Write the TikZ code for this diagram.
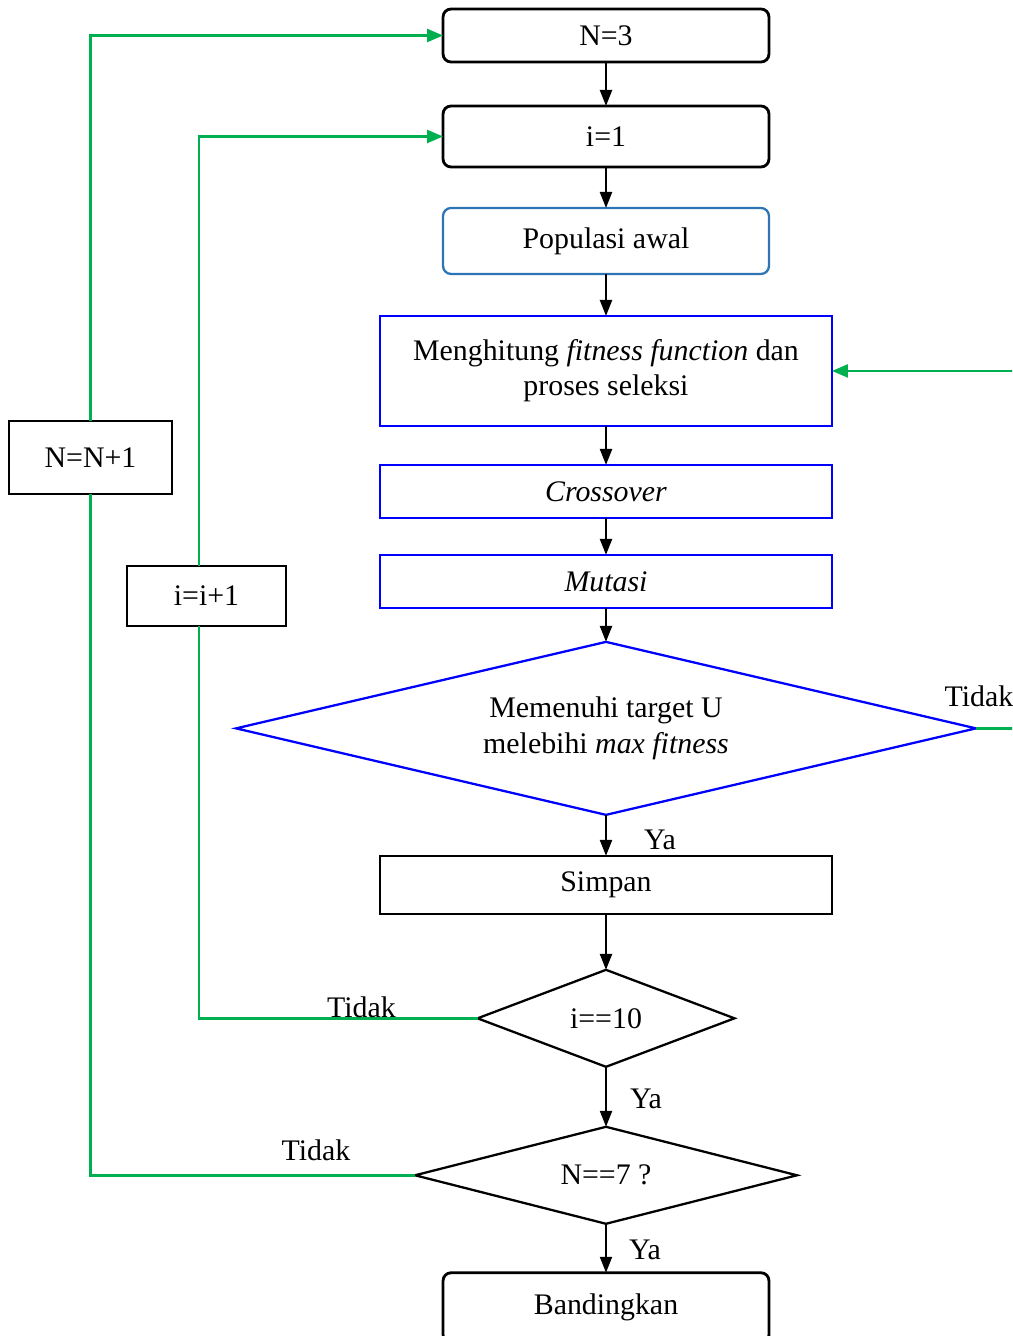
\documentclass[tikz,border=0pt]{standalone}
\usepackage{fontspec}
\setmainfont{Liberation Serif}
\usetikzlibrary{arrows.meta}
\usetikzlibrary{positioning}
\usetikzlibrary{calc}
\usetikzlibrary{shapes.geometric}
\definecolor{loopgreen}{RGB}{0,176,80}
\definecolor{popblue}{RGB}{46,117,182}
\newcommand\flowfont{\fontsize{17}{20}\selectfont}
\tikzset{
	base/.style={draw, inner sep=0pt, outer sep=0pt, align=center, font=\flowfont},
	startbox/.style={base, rectangle, rounded corners=0.16cm, line width=1.6pt, minimum width=6.52cm},
	procbox/.style={base, rectangle, draw=blue, line width=1.3pt, minimum width=9.04cm},
	decision/.style={base, diamond, line width=1.3pt},
	counterbox/.style={base, rectangle, line width=1.3pt},
}

\begin{document}
\begin{tikzpicture}[x=0.02cm, y=-0.02cm,
	arr/.style={line width=1.3pt, -{Triangle[length=3.2mm,width=2.4mm]}},
	greenline/.style={draw=loopgreen, line width=1.4pt},
	greenarr/.style={greenline, -{Triangle[length=3.2mm,width=2.6mm]}},
	lbl/.style={font=\flowfont}]
	
	\useasboundingbox (0,0) rectangle (1012,1336);
	\clip (0,0) rectangle (1012,1336);
	
	% main column
	\node[startbox, minimum height=1.06cm] (n3) at (606,35.5) {N=3};
	\node[startbox, minimum height=1.22cm, below=0.88cm of n3] (i1) {i=1};
	\node[startbox, draw=popblue, line width=1.3pt, minimum height=1.32cm, below=0.82cm of i1] (pop) {Populasi awal};
	\node[procbox, minimum height=2.2cm, below=0.84cm of pop] (fit) {Menghitung \textit{fitness function} dan\\proses seleksi};
	\node[procbox, minimum height=1.06cm, below=0.78cm of fit] (cross) {\textit{Crossover}};
	\node[procbox, minimum height=1.06cm, below=0.74cm of cross] (mut) {\textit{Mutasi}};
	\node[decision, draw=blue, aspect=4.28, minimum width=14.8cm, minimum height=3.46cm, below=0.68cm of mut] (d1) {Memenuhi target U\\melebihi \textit{max fitness}};
	\node[procbox, draw=black, line width=1.5pt, minimum height=1.16cm, below=0.82cm of d1] (simp) {Simpan};
	\node[decision, aspect=2.65, minimum width=5.14cm, minimum height=1.94cm, below=1.12cm of simp] (i10) {i==10};
	\node[decision, aspect=3.94, minimum width=7.64cm, minimum height=1.94cm, below=1.2cm of i10] (n7) {N==7 ?};
	\node[startbox, minimum height=1.4cm, below=0.98cm of n7] (band) {Bandingkan};
	
	% counter boxes
	\node[counterbox, minimum width=3.26cm, minimum height=1.46cm] (nn) at (90.5,457.5) {N=N+1};
	\node[counterbox, minimum width=3.18cm, minimum height=1.2cm] (ii) at (206.5,596) {i=i+1};
	
	% flow arrows
	\foreach \a/\b in {n3/i1, i1/pop, pop/fit, fit/cross, cross/mut, mut/d1, d1/simp, simp/i10, i10/n7, n7/band}
	\draw[arr] (\a) -- (\b);
	
	% N loop
	\draw[greenline] (n7.west) -| (nn.south);
	\draw[greenarr] (nn.north) |- (n3.west);
	
	% i loop
	\coordinate (ix) at ($(ii.center)+(-7.5,0)$);
	\draw[greenline] (i10.west) -| (ix |- ii.south);
	\draw[greenarr] (ix |- ii.north) |- (i1.west);
	
	% fitness loop, runs past the right edge
	\coordinate (rx) at (1040,0);
	\draw[greenarr] (d1.east) -| (rx |- fit.east) -- (fit.east);
	
	% branch labels
	\node[lbl] (t1) at ($(d1.east)+(3,-32)$) {Tidak};
	\node[lbl] (y1) at ($(d1.south)+(54,25)$) {Ya};
	\node[lbl] (t2) at ($(i10.west)+(-116,-11)$) {Tidak};
	\node[lbl] (y2) at ($(i10.south)+(40,32)$) {Ya};
	\node[lbl] (t3) at ($(n7.west)+(-99,-25)$) {Tidak};
	\node[lbl] (y3) at ($(n7.south)+(39,26)$) {Ya};
	
\end{tikzpicture}
\end{document}
